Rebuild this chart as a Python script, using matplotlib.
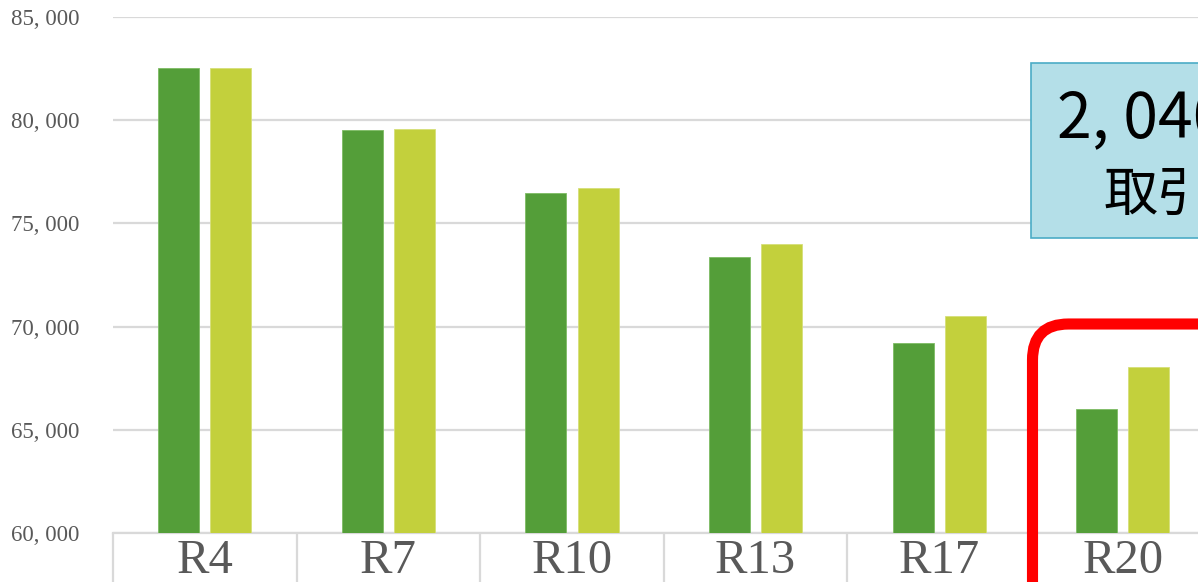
import matplotlib
matplotlib.use("Agg")
import matplotlib.pyplot as plt
from matplotlib.patches import FancyBboxPatch, Rectangle
from matplotlib.transforms import IdentityTransform
from matplotlib.ticker import FixedLocator, FuncFormatter
import numpy as np

categories = ["R4", "R7", "R10", "R13", "R17", "R20"]
series_a = [82530, 79520, 76470, 73370, 69200, 66010]
series_b = [82530, 79570, 76720, 74000, 70510, 68050]
y_ticks = [60000, 65000, 70000, 75000, 80000, 85000]
note_line1 = "2, 040"
note_line2 = "取引"

W, H = 1198, 582
fig = plt.figure(figsize=(W / 100, H / 100), dpi=100)
ax = fig.add_axes([113 / W, 49 / H, 1101.6 / W, 516 / H])

x = np.arange(len(categories))
bw = 0.223
off = 0.1424
ax.bar(x - off, series_a, bw, color="#549E39", edgecolor="#7dbb63", linewidth=0.6, zorder=3)
ax.bar(x + off, series_b, bw, color="#C3D03C", edgecolor="#d6df79", linewidth=0.6, zorder=3)

ax.set_xlim(-0.5, len(categories) - 0.5)
ax.set_ylim(60000, 85000)
ax.set_yticks(y_ticks)
ax.yaxis.set_major_formatter(FuncFormatter(lambda v, p: f"{int(v):,}".replace(",", ", ")))
ax.tick_params(axis="y", length=0, pad=24, labelsize=16.5, labelcolor="#595959")
for t in ax.get_yticklabels():
    t.set_fontfamily("Liberation Serif")
ax.grid(axis="y", color="#D9D9D9", linewidth=1.6, zorder=0)
ax.set_axisbelow(True)

ax.xaxis.set_major_locator(FixedLocator(np.arange(-0.5, len(categories), 1.0)))
ax.xaxis.set_major_formatter(FuncFormatter(lambda v, p: ""))
ax.xaxis.set_minor_locator(FixedLocator(x))
ax.xaxis.set_minor_formatter(FuncFormatter(lambda v, p: categories[int(round(v))]))
ax.tick_params(axis="x", which="major", length=70, width=1.6, color="#D9D9D9")
ax.tick_params(axis="x", which="minor", length=0, pad=4, labelsize=35, labelcolor="#595959")
for t in ax.get_xticklabels(minor=True):
    t.set_fontfamily("Liberation Serif")

for s in ["top", "right", "left"]:
    ax.spines[s].set_visible(False)
ax.spines["bottom"].set_color("#D9D9D9")
ax.spines["bottom"].set_linewidth(1.6)

# annotation box (pixel coords, origin bottom-left)
box = Rectangle((1031, H - 238), 400, 175, transform=IdentityTransform(),
                facecolor="#B4DFE8", edgecolor="#4BACC6", linewidth=1.2, zorder=5)
fig.add_artist(box)
fig.text(1057 / W, (H - 137) / H, note_line1, fontsize=45,
         family=["Liberation Sans Narrow", "Noto Sans CJK JP"], color="black",
         ha="left", va="baseline", zorder=6)
fig.text(1104 / W, (H - 211) / H, note_line2, fontsize=39,
         family=["Noto Sans CJK JP"], color="black",
         ha="left", va="baseline", zorder=6)

# red rounded frame
frame = FancyBboxPatch((1032.5, -60), 400, H - 324 + 60,
                       boxstyle="round,pad=0,rounding_size=36",
                       transform=IdentityTransform(), facecolor="none",
                       edgecolor="#FF0000", linewidth=8, zorder=7)
fig.add_artist(frame)

fig.savefig("out.png", dpi=100)
